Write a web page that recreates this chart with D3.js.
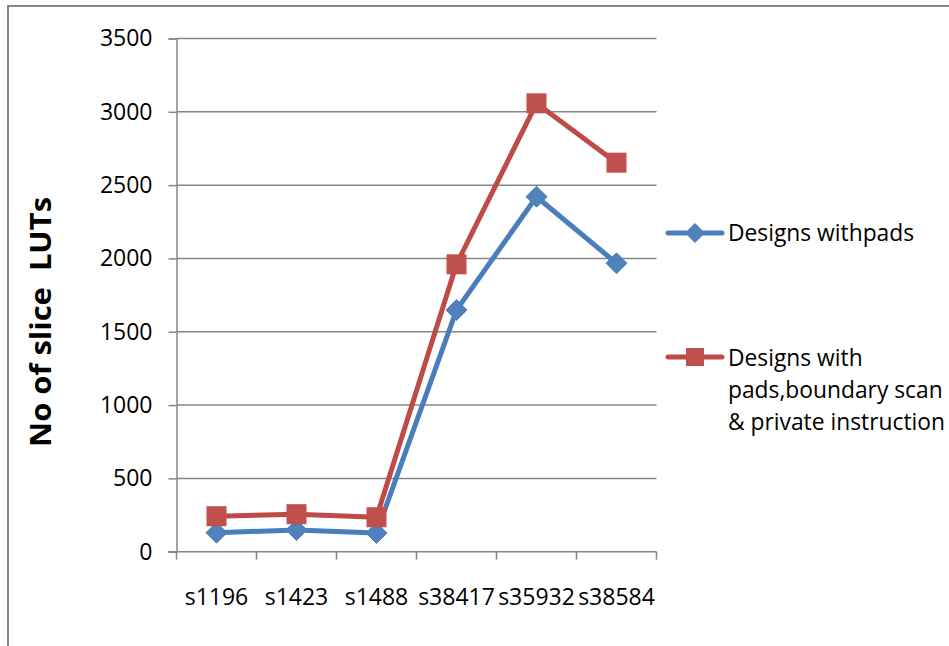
<!DOCTYPE html>
<html>
<head>
<meta charset="utf-8">
<script src="https://cdn.jsdelivr.net/npm/d3@7"></script>
<style>
  html, body { margin: 0; padding: 0; background: #fff; }
  svg { display: block; }
  text { font-family: "Open Sans", "Noto Sans", sans-serif; fill: #000; }
</style>
</head>
<body>
<svg id="chart" width="949" height="646"></svg>
<script>
// Benchmark circuits on the x axis
const categories = ["s1196", "s1423", "s1488", "s38417", "s35932", "s38584"];
// Slice LUT counts per design variant
const padsOnly = [130, 148, 128, 1648, 2421, 1967];
const padsScanPrivate = [242, 256, 235, 1960, 3058, 2653];
// Y axis ticks
const yTicks = [0, 500, 1000, 1500, 2000, 2500, 3000, 3500];
const seriesNames = ["Designs withpads", ["Designs with", "pads,boundary scan", "& private instruction"]];
const yTitle = "No of slice  LUTs";

const svg = d3.select("#chart");
const grey = "#868686";

// Outer chart frame
svg.append("rect")
  .attr("x", 8).attr("y", 6).attr("width", 1100).attr("height", 800)
  .attr("fill", "none").attr("stroke", grey).attr("stroke-width", 2);

const x = d3.scaleBand().domain(categories).range([176.5, 656.5]);
const y = d3.scaleLinear().domain([0, 3500]).range([551.7, 38.5]);

// Horizontal gridlines
svg.append("g").selectAll("line").data(yTicks.slice(1)).join("line")
  .attr("x1", 176.5).attr("x2", 656.5)
  .attr("y1", d => y(d)).attr("y2", d => y(d))
  .attr("stroke", grey).attr("stroke-width", 1.5);

// Y axis
const yAxis = svg.append("g").attr("transform", "translate(176.5,0)")
  .call(d3.axisLeft(y).tickValues(yTicks).tickSize(8).tickPadding(16).tickFormat(d3.format("d")));
yAxis.select(".domain").attr("stroke", grey).attr("stroke-width", 1.5);
yAxis.selectAll(".tick line").attr("stroke", grey).attr("stroke-width", 1.5);
yAxis.selectAll(".tick text").attr("font-size", 23).attr("font-family", "Open Sans").attr("fill", "#000");

// X axis with ticks at category boundaries
const xAxisG = svg.append("g").attr("transform", "translate(0,551.7)");
xAxisG.append("line").attr("x1", 168).attr("x2", 656.5).attr("y1", 0).attr("y2", 0)
  .attr("stroke", grey).attr("stroke-width", 1.5);
const boundaries = categories.map(c => x(c)).concat([x(categories[categories.length - 1]) + x.bandwidth()]);
xAxisG.selectAll("line.tk").data(boundaries).join("line").attr("class", "tk")
  .attr("x1", d => d).attr("x2", d => d).attr("y1", 0).attr("y2", 8)
  .attr("stroke", grey).attr("stroke-width", 1.5);
xAxisG.selectAll("text").data(categories).join("text")
  .attr("x", d => x(d) + x.bandwidth() / 2).attr("y", 53)
  .attr("text-anchor", "middle").attr("font-size", 23)
  .text(d => d);

const cx = c => x(c) + x.bandwidth() / 2;
const line = d3.line().x((d, i) => cx(categories[i])).y(d => y(d));

const series = [
  { values: padsOnly, stroke: "#4A7EBB", fill: "#4F81BD", marker: "diamond" },
  { values: padsScanPrivate, stroke: "#BE4B48", fill: "#C0504D", marker: "square" }
];

function drawMarker(g, type, px, py, size, fill) {
  if (type === "diamond") {
    const h = size / 2;
    g.append("path")
      .attr("d", `M${px},${py - h}L${px + h},${py}L${px},${py + h}L${px - h},${py}Z`)
      .attr("fill", fill).attr("stroke", fill).attr("stroke-width", 1).attr("stroke-linejoin", "round");
  } else {
    g.append("rect")
      .attr("x", px - size / 2).attr("y", py - size / 2)
      .attr("width", size).attr("height", size)
      .attr("fill", fill);
  }
}

series.forEach(s => {
  svg.append("path").datum(s.values)
    .attr("d", line)
    .attr("fill", "none").attr("stroke", s.stroke).attr("stroke-width", 5)
    .attr("stroke-linejoin", "round").attr("stroke-linecap", "round");
  const mg = svg.append("g");
  s.values.forEach((v, i) => drawMarker(mg, s.marker, cx(categories[i]), y(v), s.marker === "diamond" ? 21 : 20, s.fill));
});

// Legend
const legendRows = [
  { yLine: 233, lines: [seriesNames[0]], baseline: 241 },
  { yLine: 357, lines: seriesNames[1], baseline: 366 }
];
legendRows.forEach((r, i) => {
  const s = series[i];
  svg.append("line").attr("x1", 668).attr("x2", 722).attr("y1", r.yLine).attr("y2", r.yLine)
    .attr("stroke", s.stroke).attr("stroke-width", 5).attr("stroke-linecap", "round");
  drawMarker(svg.append("g"), s.marker, 695, r.yLine, s.marker === "diamond" ? 19 : 18, s.fill);
  const t = svg.append("text").attr("x", 728).attr("y", r.baseline).attr("font-size", 22.8);
  r.lines.forEach((ln, k) => {
    t.append("tspan").attr("x", 728).attr("dy", k === 0 ? 0 : 32).text(ln);
  });
});

// Y axis title (double space kept)
svg.append("text")
  .attr("transform", "translate(51,322) rotate(-90)")
  .attr("text-anchor", "middle")
  .style("white-space", "pre")
  .attr("font-size", 28).attr("font-weight", "bold")
  .attr("textLength", 250).attr("lengthAdjust", "spacingAndGlyphs")
  .text(yTitle);
</script>
</body>
</html>
